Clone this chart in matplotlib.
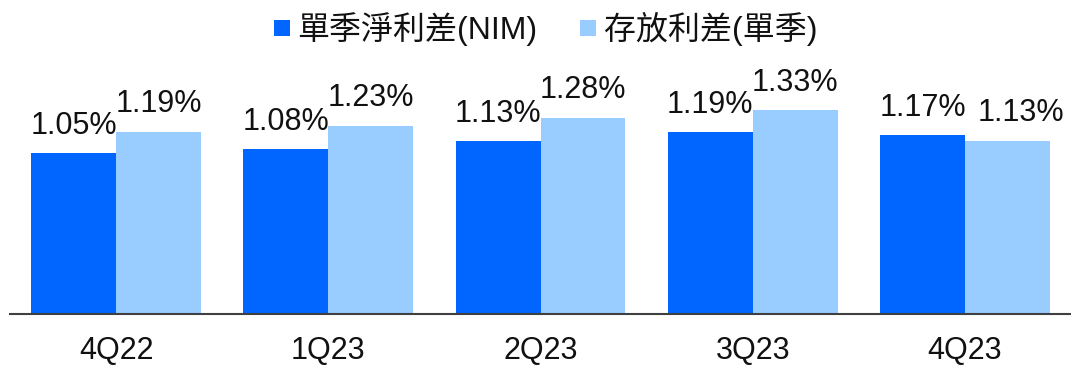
import matplotlib
matplotlib.use("Agg")
import matplotlib.pyplot as plt
import numpy as np
from matplotlib.lines import Line2D

quarters = ["4Q22", "1Q23", "2Q23", "3Q23", "4Q23"]
nim = [1.05, 1.08, 1.13, 1.19, 1.17]
spread = [1.19, 1.23, 1.28, 1.33, 1.13]
series_names = ["單季淨利差(NIM)", "存放利差(單季)"]

dark_blue = "#0066FF"
light_blue = "#99CCFF"
fonts = ["Liberation Sans", "Noto Sans CJK TC", "DejaVu Sans"]
plt.rcParams["font.family"] = fonts

W, H = 1071, 365
fig = plt.figure(figsize=(W / 100, H / 100), dpi=100)
ax = fig.add_axes([10 / W, 51 / H, 1061 / W, 245 / H])

x = np.arange(len(quarters))
bw = 0.4
ax.bar(x - bw / 2, nim, width=bw, color=dark_blue, zorder=2)
ax.bar(x + bw / 2, spread, width=bw, color=light_blue, zorder=2)

for xi, v in zip(x, nim):
    ax.annotate(f"{v:.2f}%", (xi - bw / 2, v), xytext=(0, 13.5),
                textcoords="offset points", ha="center", va="baseline",
                fontsize=22, color="#111111")
for i, (xi, v) in enumerate(zip(x, spread)):
    # nudge the last label right so it clears its neighbour
    dx = 10 if i == len(spread) - 1 else 0
    ax.annotate(f"{v:.2f}%", (xi + bw / 2, v), xytext=(dx, 14.2),
                textcoords="offset points", ha="center", va="baseline",
                fontsize=22, color="#111111")

ax.set_xlim(-0.5, len(quarters) - 0.5)
ax.set_ylim(0, 1.6)
ax.set_yticks([])
ax.set_xticks(x)
ax.set_xticklabels(quarters, fontsize=22, color="#111111")
ax.tick_params(axis="x", length=0, pad=15.5)
for side in ["left", "right", "top"]:
    ax.spines[side].set_visible(False)
ax.spines["bottom"].set_color("#404040")
ax.spines["bottom"].set_linewidth(1.5)
ax.spines["bottom"].set_zorder(3)

handles = [
    Line2D([], [], marker="s", linestyle="none", markersize=12,
           markerfacecolor=dark_blue, markeredgewidth=0),
    Line2D([], [], marker="s", linestyle="none", markersize=12,
           markerfacecolor=light_blue, markeredgewidth=0),
]
fig.legend(handles, series_names, loc="center", bbox_to_anchor=(545 / W, 1 - 29 / H),
           ncol=2, frameon=False, fontsize=23, handlelength=0.55, handletextpad=0.22,
           columnspacing=1.3, labelcolor="#111111")

fig.savefig("out.png", dpi=100)
